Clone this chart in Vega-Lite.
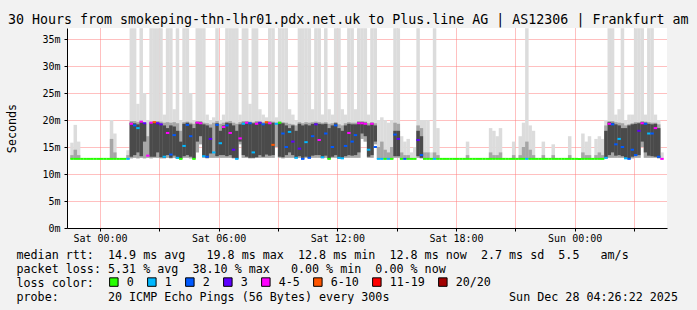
{
  "$schema": "https://vega.github.io/schema/vega-lite/v6.json",
  "width": 600,
  "height": 200,
  "autosize": {"type": "none"},
  "padding": {"left": 67, "top": 28, "right": 30, "bottom": 82},
  "background": "#f2f2f2",
  "view": {"fill": "#ffffff", "stroke": null},
  "title": {"text": "30 Hours from smokeping-thn-lhr01.pdx.net.uk to Plus.line AG | AS12306 | Frankfurt am", "anchor": "start", "frame": "group", "dx": -59, "dy": 16, "offset": 4, "baseline": "bottom", "font": "DejaVu Sans Mono", "fontSize": 13.3, "fontWeight": "normal", "color": "#000"},
  "data": {"values": [
    {"t":"2025-12-26T22:35","lo":0.0128,"hi":0.0158,"mid":0.0135,"med":0.0128,"loss":"0"},
    {"t":"2025-12-26T22:45","lo":0.0128,"hi":0.0191,"mid":0.0145,"med":0.0128,"loss":"0"},
    {"t":"2025-12-26T22:55","lo":0.0128,"hi":0.016,"mid":0.0135,"med":0.0128,"loss":"0"},
    {"t":"2025-12-26T23:05","med":0.0128,"loss":"0"},
    {"t":"2025-12-26T23:15","med":0.0128,"loss":"0"},
    {"t":"2025-12-26T23:25","med":0.0128,"loss":"0"},
    {"t":"2025-12-26T23:35","med":0.0128,"loss":"0"},
    {"t":"2025-12-26T23:45","med":0.0128,"loss":"0"},
    {"t":"2025-12-26T23:55","med":0.0128,"loss":"0"},
    {"t":"2025-12-27T00:05","med":0.0128,"loss":"0"},
    {"t":"2025-12-27T00:15","med":0.0128,"loss":"0"},
    {"t":"2025-12-27T00:25","med":0.0128,"loss":"0"},
    {"t":"2025-12-27T00:35","lo":0.0128,"hi":0.02,"mid":0.0165,"med":0.0128,"loss":"0"},
    {"t":"2025-12-27T00:45","lo":0.0128,"hi":0.0175,"mid":0.014,"med":0.0128,"loss":"0"},
    {"t":"2025-12-27T00:55","med":0.0128,"loss":"0"},
    {"t":"2025-12-27T01:05","med":0.0128,"loss":"0"},
    {"t":"2025-12-27T01:15","med":0.0128,"loss":"0"},
    {"t":"2025-12-27T01:25","lo":0.0128,"hi":0.0144,"mid":0.0135,"med":0.0128,"loss":"1"},
    {"t":"2025-12-27T01:35","lo":0.0129,"hi":0.037,"mid":0.0198,"d1":0.0132,"d2":0.0195,"med":0.0193,"loss":"4-5"},
    {"t":"2025-12-27T01:45","lo":0.013,"hi":0.037,"mid":0.0198,"d1":0.0135,"d2":0.0194,"med":0.019,"loss":"2"},
    {"t":"2025-12-27T01:55","lo":0.0129,"hi":0.023,"mid":0.0196,"d1":0.014,"d2":0.0192,"med":0.0185,"loss":"1"},
    {"t":"2025-12-27T02:05","lo":0.013,"hi":0.037,"mid":0.0198,"d1":0.0133,"d2":0.0196,"med":0.0197,"loss":"4-5"},
    {"t":"2025-12-27T02:15","lo":0.0129,"hi":0.025,"mid":0.0195,"d1":0.016,"d2":0.0193,"med":0.0194,"loss":"3"},
    {"t":"2025-12-27T02:25","lo":0.013,"hi":0.02,"mid":0.017,"med":0.0134,"loss":"4-5"},
    {"t":"2025-12-27T02:35","lo":0.0129,"hi":0.037,"mid":0.0197,"d1":0.0132,"d2":0.0195,"med":0.0195,"loss":"4-5"},
    {"t":"2025-12-27T02:45","lo":0.013,"hi":0.037,"mid":0.0198,"d1":0.0132,"d2":0.0196,"med":0.0196,"loss":"6-10"},
    {"t":"2025-12-27T02:55","lo":0.013,"hi":0.037,"mid":0.0198,"d1":0.014,"d2":0.0195,"med":0.0194,"loss":"3"},
    {"t":"2025-12-27T03:05","lo":0.0129,"hi":0.037,"mid":0.0197,"d1":0.0131,"d2":0.0193,"med":0.0192,"loss":"3"},
    {"t":"2025-12-27T03:15","lo":0.0129,"hi":0.021,"mid":0.0195,"d1":0.013,"d2":0.019,"med":0.0132,"loss":"1"},
    {"t":"2025-12-27T03:25","lo":0.013,"hi":0.037,"mid":0.0196,"d1":0.0135,"d2":0.0185,"med":0.0176,"loss":"4-5"},
    {"t":"2025-12-27T03:35","lo":0.0129,"hi":0.037,"mid":0.0195,"d1":0.013,"d2":0.019,"med":0.0136,"loss":"2"},
    {"t":"2025-12-27T03:45","lo":0.013,"hi":0.022,"mid":0.0196,"d1":0.0134,"d2":0.0188,"med":0.0172,"loss":"2"},
    {"t":"2025-12-27T03:55","lo":0.0128,"hi":0.037,"mid":0.0194,"d1":0.013,"d2":0.018,"med":0.013,"loss":"1"},
    {"t":"2025-12-27T04:05","lo":0.0128,"hi":0.02,"mid":0.018,"d1":0.0129,"d2":0.016,"med":0.0128,"loss":"0"},
    {"t":"2025-12-27T04:15","lo":0.013,"hi":0.037,"mid":0.0196,"d1":0.0133,"d2":0.0193,"med":0.0152,"loss":"1"},
    {"t":"2025-12-27T04:25","lo":0.013,"hi":0.037,"mid":0.0197,"d1":0.0135,"d2":0.0195,"med":0.0191,"loss":"2"},
    {"t":"2025-12-27T04:35","lo":0.0129,"hi":0.025,"mid":0.0195,"d1":0.0132,"d2":0.0192,"med":0.017,"loss":"2"},
    {"t":"2025-12-27T04:45","lo":0.0128,"hi":0.02,"mid":0.0193,"d1":0.0129,"d2":0.0185,"med":0.0128,"loss":"0"},
    {"t":"2025-12-27T04:55","lo":0.014,"hi":0.037,"mid":0.0198,"d1":0.016,"d2":0.0196,"med":0.0195,"loss":"4-5"},
    {"t":"2025-12-27T05:05","lo":0.0155,"hi":0.037,"mid":0.0198,"d1":0.017,"d2":0.0196,"med":0.0194,"loss":"4-5"},
    {"t":"2025-12-27T05:15","lo":0.013,"hi":0.037,"mid":0.0195,"d1":0.0132,"d2":0.0192,"med":0.0133,"loss":"1"},
    {"t":"2025-12-27T05:25","lo":0.0129,"hi":0.021,"mid":0.0194,"d1":0.013,"d2":0.019,"med":0.0132,"loss":"2"},
    {"t":"2025-12-27T05:35","lo":0.013,"hi":0.02,"mid":0.0192,"d1":0.0138,"d2":0.0186,"med":0.0165,"loss":"3"},
    {"t":"2025-12-27T05:45","lo":0.013,"hi":0.0205,"mid":0.0195,"med":0.014,"loss":"1"},
    {"t":"2025-12-27T05:55","lo":0.013,"hi":0.037,"mid":0.0198,"d1":0.0133,"d2":0.0194,"med":0.0191,"loss":"2"},
    {"t":"2025-12-27T06:05","lo":0.013,"hi":0.02,"mid":0.0193,"d1":0.0135,"d2":0.018,"med":0.0157,"loss":"1"},
    {"t":"2025-12-27T06:15","lo":0.013,"hi":0.021,"mid":0.0195,"d1":0.0135,"d2":0.019,"med":0.0187,"loss":"4-5"},
    {"t":"2025-12-27T06:25","lo":0.013,"hi":0.037,"mid":0.0197,"d1":0.0133,"d2":0.0195,"med":0.019,"loss":"2"},
    {"t":"2025-12-27T06:35","lo":0.013,"hi":0.037,"mid":0.0198,"d1":0.0135,"d2":0.0194,"med":0.0176,"loss":"4-5"},
    {"t":"2025-12-27T06:45","lo":0.0129,"hi":0.037,"mid":0.0195,"d1":0.013,"d2":0.019,"med":0.0145,"loss":"3"},
    {"t":"2025-12-27T06:55","lo":0.0128,"hi":0.037,"mid":0.0193,"d1":0.0129,"d2":0.018,"med":0.0128,"loss":"1"},
    {"t":"2025-12-27T07:05","lo":0.0155,"hi":0.021,"mid":0.0196,"d1":0.016,"d2":0.0192,"med":0.0166,"loss":"4-5"},
    {"t":"2025-12-27T07:15","lo":0.013,"hi":0.037,"mid":0.0198,"d1":0.0135,"d2":0.0195,"med":0.0193,"loss":"1"},
    {"t":"2025-12-27T07:25","lo":0.013,"hi":0.037,"mid":0.0198,"d1":0.0132,"d2":0.0196,"med":0.0195,"loss":"4-5"},
    {"t":"2025-12-27T07:35","lo":0.0129,"hi":0.023,"mid":0.0197,"d1":0.013,"d2":0.0195,"med":0.0194,"loss":"2"},
    {"t":"2025-12-27T07:45","lo":0.0129,"hi":0.037,"mid":0.0196,"d1":0.013,"d2":0.0194,"med":0.014,"loss":"1"},
    {"t":"2025-12-27T07:55","lo":0.013,"hi":0.037,"mid":0.0198,"d1":0.0131,"d2":0.0195,"med":0.0193,"loss":"4-5"},
    {"t":"2025-12-27T08:05","lo":0.013,"hi":0.022,"mid":0.0197,"d1":0.0135,"d2":0.0196,"med":0.0195,"loss":"3"},
    {"t":"2025-12-27T08:15","lo":0.013,"hi":0.021,"mid":0.0196,"d1":0.0132,"d2":0.0193,"med":0.0192,"loss":"2"},
    {"t":"2025-12-27T08:25","lo":0.013,"hi":0.0205,"mid":0.0195,"d1":0.0136,"d2":0.0194,"med":0.0196,"loss":"6-10"},
    {"t":"2025-12-27T08:35","lo":0.013,"hi":0.037,"mid":0.0198,"d1":0.0134,"d2":0.0195,"med":0.0194,"loss":"4-5"},
    {"t":"2025-12-27T08:45","lo":0.013,"hi":0.037,"mid":0.0197,"d1":0.0135,"d2":0.0195,"med":0.0154,"loss":"6-10"},
    {"t":"2025-12-27T08:55","lo":0.015,"hi":0.0205,"mid":0.0195,"med":0.0193,"loss":"1"},
    {"t":"2025-12-27T09:05","lo":0.013,"hi":0.037,"mid":0.0197,"d1":0.0132,"d2":0.0195,"med":0.0195,"loss":"0"},
    {"t":"2025-12-27T09:15","lo":0.0129,"hi":0.037,"mid":0.0196,"d1":0.0131,"d2":0.0194,"med":0.0175,"loss":"2"},
    {"t":"2025-12-27T09:25","lo":0.013,"hi":0.037,"mid":0.0195,"d1":0.0135,"d2":0.019,"med":0.015,"loss":"2"},
    {"t":"2025-12-27T09:35","lo":0.013,"hi":0.022,"mid":0.0193,"d1":0.014,"d2":0.0185,"med":0.0178,"loss":"1"},
    {"t":"2025-12-27T09:45","lo":0.013,"hi":0.021,"mid":0.0192,"d1":0.0135,"d2":0.019,"med":0.016,"loss":"3"},
    {"t":"2025-12-27T09:55","lo":0.0129,"hi":0.02,"mid":0.019,"d1":0.013,"d2":0.018,"med":0.013,"loss":"1"},
    {"t":"2025-12-27T10:05","lo":0.013,"hi":0.037,"mid":0.0196,"d1":0.0133,"d2":0.0193,"med":0.0147,"loss":"3"},
    {"t":"2025-12-27T10:15","lo":0.0128,"hi":0.037,"mid":0.0194,"d1":0.013,"d2":0.019,"med":0.0128,"loss":"2"},
    {"t":"2025-12-27T10:25","lo":0.013,"hi":0.037,"mid":0.0196,"d1":0.0132,"d2":0.0192,"med":0.0159,"loss":"1"},
    {"t":"2025-12-27T10:35","lo":0.0129,"hi":0.037,"mid":0.0195,"d1":0.013,"d2":0.019,"med":0.013,"loss":"2"},
    {"t":"2025-12-27T10:45","lo":0.013,"hi":0.022,"mid":0.0196,"d1":0.0134,"d2":0.0193,"med":0.017,"loss":"2"},
    {"t":"2025-12-27T10:55","lo":0.013,"hi":0.037,"mid":0.0197,"d1":0.0135,"d2":0.0194,"med":0.0192,"loss":"3"},
    {"t":"2025-12-27T11:05","lo":0.013,"hi":0.037,"mid":0.0196,"d1":0.0135,"d2":0.0193,"med":0.0163,"loss":"4-5"},
    {"t":"2025-12-27T11:15","lo":0.0129,"hi":0.021,"mid":0.0195,"d1":0.013,"d2":0.0192,"med":0.0131,"loss":"1"},
    {"t":"2025-12-27T11:25","lo":0.013,"hi":0.037,"mid":0.0196,"d1":0.0134,"d2":0.0193,"med":0.0175,"loss":"2"},
    {"t":"2025-12-27T11:35","lo":0.0128,"hi":0.022,"mid":0.0193,"d1":0.0129,"d2":0.0185,"med":0.0128,"loss":"0"},
    {"t":"2025-12-27T11:45","lo":0.013,"hi":0.021,"mid":0.0194,"d1":0.0132,"d2":0.019,"med":0.015,"loss":"2"},
    {"t":"2025-12-27T11:55","lo":0.013,"hi":0.037,"mid":0.0196,"d1":0.0135,"d2":0.0194,"med":0.019,"loss":"2"},
    {"t":"2025-12-27T12:05","lo":0.0128,"hi":0.037,"mid":0.0192,"d1":0.0129,"d2":0.0185,"med":0.013,"loss":"1"},
    {"t":"2025-12-27T12:15","lo":0.0128,"hi":0.022,"mid":0.019,"d1":0.013,"d2":0.018,"med":0.0129,"loss":"1"},
    {"t":"2025-12-27T12:25","lo":0.013,"hi":0.021,"mid":0.0194,"d1":0.0133,"d2":0.019,"med":0.0152,"loss":"2"},
    {"t":"2025-12-27T12:35","lo":0.013,"hi":0.037,"mid":0.0196,"d1":0.0135,"d2":0.0193,"med":0.0176,"loss":"4-5"},
    {"t":"2025-12-27T12:45","lo":0.013,"hi":0.037,"mid":0.0195,"d1":0.0134,"d2":0.0192,"med":0.016,"loss":"2"},
    {"t":"2025-12-27T12:55","lo":0.013,"hi":0.022,"mid":0.0195,"d1":0.0135,"d2":0.0192,"med":0.0172,"loss":"2"},
    {"t":"2025-12-27T13:05","lo":0.013,"hi":0.037,"mid":0.0198,"d1":0.014,"d2":0.0196,"med":0.0194,"loss":"4-5"},
    {"t":"2025-12-27T13:15","lo":0.0165,"hi":0.037,"mid":0.0198,"d1":0.0175,"d2":0.0196,"med":0.0194,"loss":"4-5"},
    {"t":"2025-12-27T13:25","lo":0.016,"hi":0.037,"mid":0.0197,"d1":0.017,"d2":0.0195,"med":0.0193,"loss":"4-5"},
    {"t":"2025-12-27T13:35","lo":0.013,"hi":0.021,"mid":0.0194,"d1":0.0132,"d2":0.019,"med":0.0145,"loss":"1"},
    {"t":"2025-12-27T13:45","lo":0.013,"hi":0.037,"mid":0.0196,"d1":0.0135,"d2":0.0194,"med":0.0193,"loss":"4-5"},
    {"t":"2025-12-27T13:55","lo":0.0155,"hi":0.037,"mid":0.0194,"d1":0.016,"d2":0.019,"med":0.015,"loss":"2"},
    {"t":"2025-12-27T14:05","lo":0.0128,"hi":0.02,"mid":0.015,"med":0.0128,"loss":"1"},
    {"t":"2025-12-27T14:15","lo":0.0128,"hi":0.0205,"mid":0.016,"med":0.0128,"loss":"1"},
    {"t":"2025-12-27T14:25","lo":0.0128,"hi":0.02,"mid":0.0145,"med":0.0128,"loss":"0"},
    {"t":"2025-12-27T14:35","lo":0.0128,"hi":0.0195,"mid":0.014,"med":0.0128,"loss":"1"},
    {"t":"2025-12-27T14:45","lo":0.0128,"hi":0.02,"mid":0.015,"med":0.0128,"loss":"0"},
    {"t":"2025-12-27T14:55","lo":0.013,"hi":0.037,"mid":0.0195,"d1":0.0133,"d2":0.018,"med":0.0173,"loss":"2"},
    {"t":"2025-12-27T15:05","lo":0.013,"hi":0.037,"mid":0.0193,"d1":0.0133,"d2":0.018,"med":0.0165,"loss":"3"},
    {"t":"2025-12-27T15:15","lo":0.0128,"hi":0.017,"mid":0.014,"med":0.0128,"loss":"0"},
    {"t":"2025-12-27T15:25","lo":0.0128,"hi":0.016,"mid":0.0135,"med":0.0128,"loss":"2"},
    {"t":"2025-12-27T15:35","lo":0.0128,"hi":0.0165,"mid":0.0135,"med":0.0128,"loss":"0"},
    {"t":"2025-12-27T15:45","lo":0.0128,"hi":0.014,"med":0.0128,"loss":"0"},
    {"t":"2025-12-27T15:55","lo":0.0128,"hi":0.015,"med":0.0128,"loss":"0"},
    {"t":"2025-12-27T16:05","lo":0.013,"hi":0.037,"mid":0.019,"d1":0.0133,"d2":0.018,"med":0.0163,"loss":"3"},
    {"t":"2025-12-27T16:15","lo":0.0129,"hi":0.02,"mid":0.0185,"d1":0.013,"d2":0.017,"med":0.0135,"loss":"2"},
    {"t":"2025-12-27T16:25","lo":0.0128,"hi":0.02,"mid":0.014,"med":0.0128,"loss":"0"},
    {"t":"2025-12-27T16:35","lo":0.0128,"hi":0.02,"mid":0.014,"med":0.0128,"loss":"0"},
    {"t":"2025-12-27T16:45","lo":0.0128,"hi":0.014,"med":0.0128,"loss":"0"},
    {"t":"2025-12-27T16:55","lo":0.0128,"hi":0.037,"mid":0.014,"med":0.0128,"loss":"1"},
    {"t":"2025-12-27T17:05","lo":0.0128,"hi":0.0185,"mid":0.0135,"med":0.0128,"loss":"0"},
    {"t":"2025-12-27T17:15","med":0.0128,"loss":"0"},
    {"t":"2025-12-27T17:25","med":0.0128,"loss":"0"},
    {"t":"2025-12-27T17:35","med":0.0128,"loss":"0"},
    {"t":"2025-12-27T17:45","med":0.0128,"loss":"0"},
    {"t":"2025-12-27T17:55","med":0.0128,"loss":"0"},
    {"t":"2025-12-27T18:05","med":0.0128,"loss":"0"},
    {"t":"2025-12-27T18:15","med":0.0128,"loss":"0"},
    {"t":"2025-12-27T18:25","med":0.0128,"loss":"0"},
    {"t":"2025-12-27T18:35","lo":0.0128,"hi":0.016,"mid":0.0135,"med":0.0128,"loss":"0"},
    {"t":"2025-12-27T18:45","med":0.0128,"loss":"0"},
    {"t":"2025-12-27T18:55","med":0.0128,"loss":"0"},
    {"t":"2025-12-27T19:05","med":0.0128,"loss":"0"},
    {"t":"2025-12-27T19:15","med":0.0128,"loss":"0"},
    {"t":"2025-12-27T19:25","med":0.0128,"loss":"0"},
    {"t":"2025-12-27T19:35","med":0.0128,"loss":"0"},
    {"t":"2025-12-27T19:45","lo":0.0128,"hi":0.0185,"mid":0.014,"med":0.0128,"loss":"0"},
    {"t":"2025-12-27T19:55","lo":0.0128,"hi":0.018,"mid":0.0135,"med":0.0128,"loss":"0"},
    {"t":"2025-12-27T20:05","lo":0.0128,"hi":0.017,"mid":0.0135,"med":0.0128,"loss":"0"},
    {"t":"2025-12-27T20:15","lo":0.0128,"hi":0.0185,"mid":0.014,"med":0.0128,"loss":"0"},
    {"t":"2025-12-27T20:25","med":0.0128,"loss":"0"},
    {"t":"2025-12-27T20:35","med":0.0128,"loss":"0"},
    {"t":"2025-12-27T20:45","med":0.0128,"loss":"0"},
    {"t":"2025-12-27T20:55","lo":0.0128,"hi":0.016,"mid":0.0135,"med":0.0128,"loss":"0"},
    {"t":"2025-12-27T21:05","med":0.0128,"loss":"0"},
    {"t":"2025-12-27T21:15","lo":0.0128,"hi":0.017,"mid":0.0135,"med":0.0128,"loss":"0"},
    {"t":"2025-12-27T21:25","lo":0.0128,"hi":0.0195,"mid":0.015,"med":0.0128,"loss":"0"},
    {"t":"2025-12-27T21:35","lo":0.0128,"hi":0.037,"mid":0.016,"med":0.0128,"loss":"1"},
    {"t":"2025-12-27T21:45","lo":0.0128,"hi":0.019,"mid":0.0145,"med":0.0128,"loss":"0"},
    {"t":"2025-12-27T21:55","lo":0.0128,"hi":0.018,"mid":0.0135,"med":0.0128,"loss":"0"},
    {"t":"2025-12-27T22:05","med":0.0128,"loss":"0"},
    {"t":"2025-12-27T22:15","med":0.0128,"loss":"0"},
    {"t":"2025-12-27T22:25","lo":0.0128,"hi":0.016,"mid":0.0135,"med":0.0128,"loss":"0"},
    {"t":"2025-12-27T22:35","med":0.0128,"loss":"0"},
    {"t":"2025-12-27T22:45","med":0.0128,"loss":"0"},
    {"t":"2025-12-27T22:55","lo":0.0128,"hi":0.0155,"mid":0.0135,"med":0.0128,"loss":"0"},
    {"t":"2025-12-27T23:05","med":0.0128,"loss":"0"},
    {"t":"2025-12-27T23:15","med":0.0128,"loss":"0"},
    {"t":"2025-12-27T23:25","med":0.0128,"loss":"0"},
    {"t":"2025-12-27T23:35","med":0.0128,"loss":"0"},
    {"t":"2025-12-27T23:45","lo":0.0128,"hi":0.017,"mid":0.0135,"med":0.0128,"loss":"0"},
    {"t":"2025-12-27T23:55","med":0.0128,"loss":"0"},
    {"t":"2025-12-28T00:05","med":0.0128,"loss":"0"},
    {"t":"2025-12-28T00:15","med":0.0128,"loss":"0"},
    {"t":"2025-12-28T00:25","lo":0.0128,"hi":0.0175,"mid":0.014,"med":0.0128,"loss":"0"},
    {"t":"2025-12-28T00:35","lo":0.0128,"hi":0.016,"mid":0.0135,"med":0.0128,"loss":"0"},
    {"t":"2025-12-28T00:45","lo":0.0128,"hi":0.017,"mid":0.0135,"med":0.0128,"loss":"0"},
    {"t":"2025-12-28T00:55","med":0.0128,"loss":"0"},
    {"t":"2025-12-28T01:05","lo":0.0128,"hi":0.0165,"mid":0.0135,"med":0.0128,"loss":"0"},
    {"t":"2025-12-28T01:15","lo":0.0128,"hi":0.017,"mid":0.014,"med":0.0128,"loss":"0"},
    {"t":"2025-12-28T01:25","lo":0.0128,"hi":0.0165,"mid":0.0135,"med":0.0128,"loss":"0"},
    {"t":"2025-12-28T01:35","lo":0.0128,"hi":0.02,"mid":0.019,"d1":0.013,"d2":0.018,"med":0.013,"loss":"1"},
    {"t":"2025-12-28T01:45","lo":0.013,"hi":0.037,"mid":0.0198,"d1":0.0135,"d2":0.0196,"med":0.0193,"loss":"4-5"},
    {"t":"2025-12-28T01:55","lo":0.013,"hi":0.037,"mid":0.0198,"d1":0.014,"d2":0.0195,"med":0.0192,"loss":"2"},
    {"t":"2025-12-28T02:05","lo":0.013,"hi":0.021,"mid":0.0196,"d1":0.0134,"d2":0.0192,"med":0.0155,"loss":"2"},
    {"t":"2025-12-28T02:15","lo":0.013,"hi":0.022,"mid":0.0195,"d1":0.0135,"d2":0.019,"med":0.0165,"loss":"1"},
    {"t":"2025-12-28T02:25","lo":0.013,"hi":0.037,"mid":0.0194,"d1":0.0133,"d2":0.0185,"med":0.015,"loss":"2"},
    {"t":"2025-12-28T02:35","lo":0.0128,"hi":0.02,"mid":0.019,"d1":0.013,"d2":0.0185,"med":0.0129,"loss":"1"},
    {"t":"2025-12-28T02:45","lo":0.0128,"hi":0.021,"mid":0.0192,"d1":0.0129,"d2":0.019,"med":0.0128,"loss":"2"},
    {"t":"2025-12-28T02:55","lo":0.0129,"hi":0.021,"mid":0.0194,"d1":0.0132,"d2":0.0192,"med":0.0145,"loss":"2"},
    {"t":"2025-12-28T03:05","lo":0.013,"hi":0.037,"mid":0.0196,"d1":0.0134,"d2":0.0193,"med":0.0135,"loss":"2"},
    {"t":"2025-12-28T03:15","lo":0.013,"hi":0.037,"mid":0.0196,"d1":0.0135,"d2":0.0194,"med":0.018,"loss":"3"},
    {"t":"2025-12-28T03:25","lo":0.015,"hi":0.037,"mid":0.0198,"d1":0.016,"d2":0.0196,"med":0.0194,"loss":"4-5"},
    {"t":"2025-12-28T03:35","lo":0.013,"hi":0.021,"mid":0.0197,"d1":0.014,"d2":0.0195,"med":0.0193,"loss":"2"},
    {"t":"2025-12-28T03:45","lo":0.013,"hi":0.037,"mid":0.0196,"d1":0.0134,"d2":0.0193,"med":0.0175,"loss":"1"},
    {"t":"2025-12-28T03:55","lo":0.013,"hi":0.037,"mid":0.0195,"d1":0.0133,"d2":0.0192,"med":0.0175,"loss":"2"},
    {"t":"2025-12-28T04:05","lo":0.013,"hi":0.021,"mid":0.0195,"d1":0.0132,"d2":0.0193,"med":0.0185,"loss":"4-5"},
    {"t":"2025-12-28T04:15","lo":0.0129,"hi":0.02,"mid":0.0192,"d1":0.013,"d2":0.0185,"med":0.0132,"loss":"2"},
    {"t":"2025-12-28T04:25","lo":0.0128,"hi":0.014,"med":0.0128,"loss":"4-5"}
  ]},
  "layer": [
    {
      "mark": {"type": "bar", "color": "#dcdcdc", "width": 3.5},
      "encoding": {
        "x": {"field": "t", "type": "temporal", "scale": {"nice": false},
          "axis": {"grid": true, "gridColor": "#ff8080", "gridDash": [1, 1], "tickCount": 10, "format": "%a %H:%M",
            "labelOverlap": "parity", "labelSeparation": 10,
            "labelFont": "DejaVu Sans Mono", "labelFontSize": 10, "labelColor": "#000", "labelPadding": 2,
            "tickSize": 3, "tickColor": "#000", "domainColor": "#000",
            "title": ["median rtt:\u00a0\u00a014.9 ms avg\u00a0\u00a0\u00a019.8 ms max\u00a0\u00a012.8 ms min\u00a0\u00a012.8 ms now\u00a0\u00a02.7 ms sd\u00a0\u00a05.5\u00a0\u00a0\u00a0am/s",
                      "packet loss: 5.31 % avg\u00a0\u00a038.10 % max\u00a0\u00a0\u00a00.00 % min\u00a0\u00a00.00 % now",
                      "loss color:",
                      "probe:\u00a0\u00a0\u00a0\u00a0\u00a0\u00a0\u00a020 ICMP Echo Pings (56 Bytes) every 300s\u00a0\u00a0\u00a0\u00a0\u00a0\u00a0\u00a0\u00a0\u00a0\u00a0\u00a0\u00a0\u00a0\u00a0\u00a0\u00a0\u00a0Sun Dec 28 04:26:22 2025"],
            "titleFont": "DejaVu Sans Mono", "titleFontSize": 11.7, "titleFontWeight": "normal", "titleColor": "#000",
            "titleX": -51, "titleY": 21, "titleAlign": "left", "titleBaseline": "top", "titleLineHeight": 14}},
        "y": {"field": "lo", "type": "quantitative", "scale": {"domain": [0, 0.03704], "nice": false},
          "axis": {"grid": true, "gridColor": "#ff8080", "gridDash": [1, 1], "tickCount": 8, "format": "~s",
            "labelFont": "DejaVu Sans Mono", "labelFontSize": 10, "labelColor": "#000", "labelPadding": 4,
            "tickSize": 3, "tickColor": "#000", "domainColor": "#000",
            "title": "Seconds", "titleFont": "DejaVu Sans Mono", "titleFontSize": 11.7, "titleFontWeight": "normal", "titleColor": "#000",
            "titleX": -56, "titleY": 100, "titleAlign": "center", "titleBaseline": "middle"}},
        "y2": {"field": "hi"}
      }
    },
    {
      "mark": {"type": "bar", "color": "#a6a6a6", "width": 3.5},
      "encoding": {
        "x": {"field": "t", "type": "temporal"},
        "y": {"field": "lo", "type": "quantitative"},
        "y2": {"field": "mid"}
      }
    },
    {
      "mark": {"type": "bar", "color": "#4a4a4a", "width": 3.5},
      "encoding": {
        "x": {"field": "t", "type": "temporal"},
        "y": {"field": "d1", "type": "quantitative"},
        "y2": {"field": "d2"}
      }
    },
    {
      "mark": {"type": "tick", "orient": "horizontal", "thickness": 2, "size": 3.4, "opacity": 1},
      "encoding": {
        "x": {"field": "t", "type": "temporal"},
        "y": {"field": "med", "type": "quantitative"},
        "color": {"field": "loss", "type": "nominal",
          "scale": {"domain": ["0", "1", "2", "3", "4-5", "6-10", "11-19", "20/20"], "range": ["#26ff00", "#00b8ff", "#0059ff", "#5e00ff", "#ff00ff", "#ff5500", "#ff0000", "#a10000"]},
          "legend": {"orient": "none", "legendX": 41, "legendY": 248, "direction": "horizontal", "title": null,
            "labelFont": "DejaVu Sans Mono", "labelFontSize": 11.7, "labelColor": "#000", "labelOffset": 7, "columnPadding": 11,
            "symbolType": "square", "symbolSize": 72, "symbolStrokeColor": "#000", "symbolStrokeWidth": 1}}
      }
    }
  ],
  "config": {
    "font": "DejaVu Sans Mono",
    "view": {"fill": "#ffffff", "stroke": null}
  }
}
